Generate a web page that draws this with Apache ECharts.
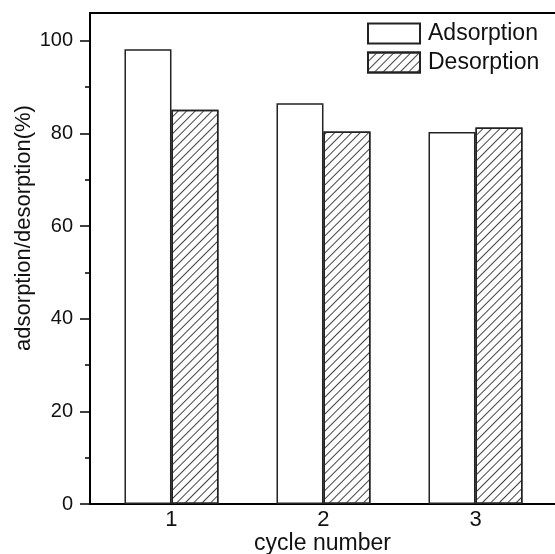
<!DOCTYPE html>
<html>
<head>
<meta charset="utf-8">
<script src="https://cdn.jsdelivr.net/npm/echarts@6/dist/echarts.min.js"></script>
<style>html,body{margin:0;padding:0;background:#fff;}#c{width:555px;height:554px;}</style>
</head>
<body>
<div id="c"></div>
<script>
var categories = [1, 2, 3];
var adsorption = [98.2, 86.5, 80.3];
var desorption = [85.1, 80.4, 81.3];
var seriesNames = ['Adsorption', 'Desorption'];
var yMajorTicks = [0, 20, 40, 60, 80, 100];
var yMinorTicks = [10, 30, 50, 70, 90];
var xLabel = 'cycle number';
var yLabel = 'adsorption/desorption(%)';

var FONT = '"Liberation Sans", Arial, sans-serif';
var chart = echarts.init(document.getElementById('c'), null, {renderer: 'canvas'});

function pairs(vals) { return categories.map(function (c, i) { return [c, vals[i]]; }); }

var hatch = {
  symbol: 'rect',
  dashArrayX: [1, 0],
  dashArrayY: [1, 5],
  rotation: -Math.PI / 4,
  color: '#444',
  symbolSize: 1
};

chart.setOption({
  animation: false,
  backgroundColor: '#fff',
  grid: {left: 90, right: 0, top: 13, bottom: 50, containLabel: false, outerBoundsMode: 'none'},
  legend: {
    orient: 'vertical',
    left: 367, top: 22,
    itemWidth: 52, itemHeight: 20, itemGap: 6,
    padding: 0,
    icon: 'rect',
    textStyle: {fontFamily: FONT, fontSize: 23, color: '#111', padding: [0, 0, 0, 3]},
    data: seriesNames
  },
  xAxis: [{
    type: 'value',
    min: 0.464, max: 3.523,
    axisLine: {show: true, onZero: false, lineStyle: {color: '#000', width: 2}},
    axisTick: {show: false},
    splitLine: {show: false},
    axisLabel: {
      customValues: categories,
      fontFamily: FONT, fontSize: 22, color: '#111', margin: 5,
      formatter: function (v) { return String(v); }
    },
    name: xLabel,
    nameLocation: 'middle',
    nameGap: 28,
    nameMoveOverlap: false,
    nameTextStyle: {fontFamily: FONT, fontSize: 23, color: '#111'}
  }, {
    type: 'value',
    position: 'top',
    min: 0.464, max: 3.523,
    axisLine: {show: true, onZero: false, lineStyle: {color: '#000', width: 2}},
    axisTick: {show: false},
    axisLabel: {show: false},
    splitLine: {show: false}
  }],
  yAxis: [{
    type: 'value',
    min: 0, max: 106,
    axisLine: {show: true, onZero: false, lineStyle: {color: '#000', width: 2}},
    axisTick: {show: true, customValues: yMajorTicks, length: 10, lineStyle: {color: '#000', width: 1.5}},
    axisLabel: {customValues: yMajorTicks, fontFamily: FONT, fontSize: 20, color: '#111', margin: 17},
    splitLine: {show: false}
  }, {
    type: 'value',
    position: 'left',
    min: 0, max: 106,
    axisLine: {show: false},
    axisTick: {show: true, customValues: yMinorTicks, length: 5, lineStyle: {color: '#000', width: 1.5}},
    axisLabel: {show: false},
    splitLine: {show: false}
  }],
  graphic: [{
    type: 'text',
    x: 24, y: 228,
    rotation: Math.PI / 2,
    style: {
      text: yLabel,
      font: '22px ' + FONT,
      fill: '#111',
      align: 'center',
      verticalAlign: 'middle'
    }
  }],
  series: [{
    name: seriesNames[0],
    type: 'bar',
    xAxisIndex: 0, yAxisIndex: 0,
    barWidth: 47,
    barGap: '0%',
    data: pairs(adsorption),
    itemStyle: {color: '#fff', borderColor: '#222', borderWidth: 1.5}
  }, {
    name: seriesNames[1],
    type: 'bar',
    xAxisIndex: 0, yAxisIndex: 0,
    barWidth: 47,
    barGap: '0%',
    data: pairs(desorption),
    itemStyle: {color: '#fff', borderColor: '#222', borderWidth: 1.5, decal: hatch}
  }]
});
</script>
</body>
</html>
